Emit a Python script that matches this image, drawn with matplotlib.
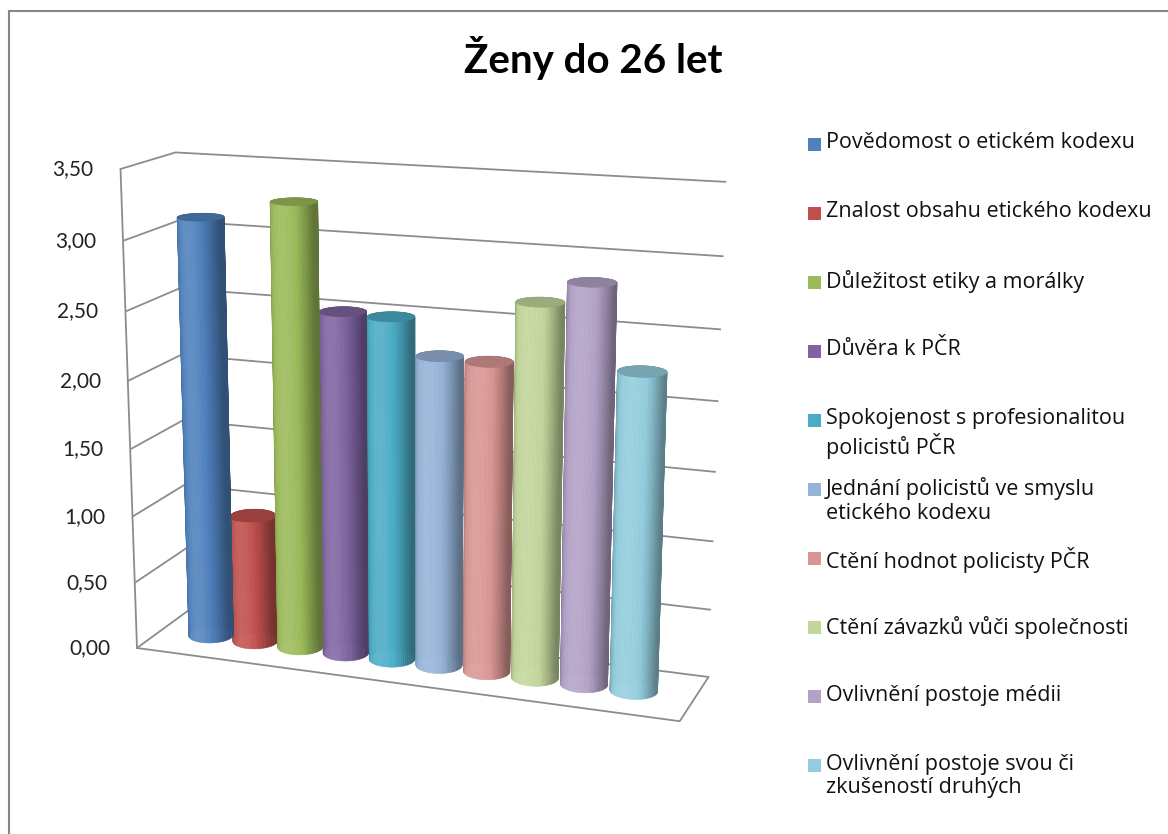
import matplotlib
matplotlib.use('Agg')
import matplotlib.pyplot as plt
import numpy as np
from matplotlib.colors import to_rgb
from matplotlib.patches import Rectangle
from mpl_toolkits.mplot3d import proj3d
from mpl_toolkits.mplot3d.art3d import Poly3DCollection

plt.rcParams['font.family'] = ['Lato', 'DejaVu Sans']

# data
categories = [
    'Povědomost o etickém kodexu',
    'Znalost obsahu etického kodexu',
    'Důležitost etiky a morálky',
    'Důvěra k PČR',
    'Spokojenost s profesionalitou\npolicistů PČR',
    'Jednání policistů ve smyslu\netického kodexu',
    'Ctění hodnot policisty PČR',
    'Ctění závazků vůči společnosti',
    'Ovlivnění postoje médii',
    'Ovlivnění postoje svou či\nzkušeností druhých',
]
values = [3.12, 0.96, 3.27, 2.52, 2.51, 2.26, 2.25, 2.69, 2.85, 2.27]
colors = ['#4F81BD', '#C0504D', '#9BBB59', '#8064A2', '#4BACC6',
          '#95B3D7', '#D99694', '#C3D69B', '#B3A2C7', '#93CDDD']
z_ticks = [0.0, 0.5, 1.0, 1.5, 2.0, 2.5, 3.0, 3.5]
z_tick_labels = ['0,00', '0,50', '1,00', '1,50', '2,00', '2,50', '3,00', '3,50']

title = 'Ženy do 26 let'

W, H = 1168, 834
ELEV, AZIM = 15, -70
radius = 0.46
grid_col = '#8c8c8c'

fig = plt.figure(figsize=(W / 100, H / 100), dpi=100)
fig.patch.set_facecolor('white')

# chart border (only left and top are inside the picture)
fig.add_artist(Rectangle((9 / W, -0.1), 1.2, 1.1 - 11 / H, transform=fig.transFigure,
                         fill=False, edgecolor='#868686', linewidth=1.5))

fig.text(0.508, 0.913, title, ha='center', va='baseline', fontsize=29, fontweight='bold')


def place(ax, side, cx, cy):
    ax.set_position([(cx - side / 2) / W, (cy - side / 2) / H, side / W, side / H])


ax = fig.add_axes([0, 0, 1, 1], projection='3d')
ax.set_proj_type('persp', focal_length=0.55)
ax.view_init(elev=ELEV, azim=AZIM)

xlim = (-1.1, len(values) + 0.2)
ylim = (-1.2, 1.2)
ax.set_xlim(*xlim)
ax.set_ylim(*ylim)
ax.set_zlim(0, 3.5)
ax.set_box_aspect((xlim[1] - xlim[0], ylim[1] - ylim[0], 9.8))

# light from the front, a little to the left
cam = np.array([np.cos(np.radians(AZIM)), np.sin(np.radians(AZIM))])
left = np.array([cam[1], -cam[0]])
light = cam + 0.55 * left
light = light / np.linalg.norm(light)


def shade(base, k):
    c = np.array(to_rgb(base))
    if k >= 1:
        return tuple(c + (1 - c) * (k - 1))
    return tuple(c * k)


n = 60
th = np.linspace(0, 2 * np.pi, n + 1)
for i, (v, col) in enumerate(zip(values, colors)):
    xs = i + radius * np.cos(th)
    ys = radius * np.sin(th)
    polys = []
    fcs = []
    for j in range(n):
        polys.append([(xs[j], ys[j], 0), (xs[j + 1], ys[j + 1], 0),
                      (xs[j + 1], ys[j + 1], v), (xs[j], ys[j], v)])
        mid = 0.5 * (th[j] + th[j + 1])
        d = np.cos(mid) * light[0] + np.sin(mid) * light[1]
        k = 0.62 + 0.5 * max(d, 0) ** 1.5
        fcs.append(shade(col, k))
    polys.append([(x, y, v) for x, y in zip(xs[:-1], ys[:-1])])
    fcs.append(shade(col, 0.8))
    pc = Poly3DCollection(polys, facecolors=fcs, edgecolors=fcs, linewidths=0.4)
    ax.add_collection3d(pc)

ax.set_xticks([])
ax.set_yticks([])
ax.set_zticks(z_ticks)
ax.set_zticklabels([''] * len(z_ticks))

for axis in (ax.xaxis, ax.yaxis, ax.zaxis):
    axis.set_pane_color((1, 1, 1, 0))
    axis.pane.set_edgecolor('none')
    axis._axinfo['grid'].update(color=grid_col, linewidth=1.3)
    axis._axinfo['tick'].update(inward_factor=0, outward_factor=0)
    axis.line.set_visible(False)
ax.grid(True)

# floor outline and front-left edge
x0, x1 = xlim
y0, y1 = ylim
ax.plot([x0, x1, x1], [y0, y0, y1], [0, 0, 0], color=grid_col, lw=1.3)
ax.plot([x0, x0], [y0, y0], [0, 3.5], color=grid_col, lw=1.3)


def to_px(x, y, z):
    px, py, _ = proj3d.proj_transform(x, y, z, ax.get_proj())
    return np.array(ax.transData.transform((px, py)))


# size and move the axes so the front-left edge sits where the reference has it
side0, c0 = 800.0, np.array([420.0, 400.0])
place(ax, side0, *c0)
fig.canvas.draw()
p_bot = to_px(x0, y0, 0)
p_top = to_px(x0, y0, 3.5)
s = 479.0 / (p_top[1] - p_bot[1])
target = np.array([137.0, H - 648.0])
c1 = target - s * (p_bot - c0)
place(ax, side0 * s, *c1)
fig.canvas.draw()

# value labels on the left edge
for z, lab in zip(z_ticks, z_tick_labels):
    dx, dy = to_px(x0, y0, z)
    fig.text((dx - 27) / W, dy / H, lab, ha='right', va='center',
             fontsize=15, color='#222222')

# legend
top = 1 - 144 / H
step = 69.1 / H
for k, (lab, col) in enumerate(zip(categories, colors)):
    yy = top - k * step
    fig.add_artist(Rectangle((808 / W, yy - 6.5 / H), 13 / W, 13 / H,
                             transform=fig.transFigure, facecolor=col, edgecolor='none'))
    fig.text(826 / W, yy + 12 / H, lab, ha='left', va='top', fontsize=15.5,
             family=['Open Sans', 'DejaVu Sans'], linespacing=1.15, color='#111111')

fig.savefig('out.png', dpi=100, facecolor='white')
